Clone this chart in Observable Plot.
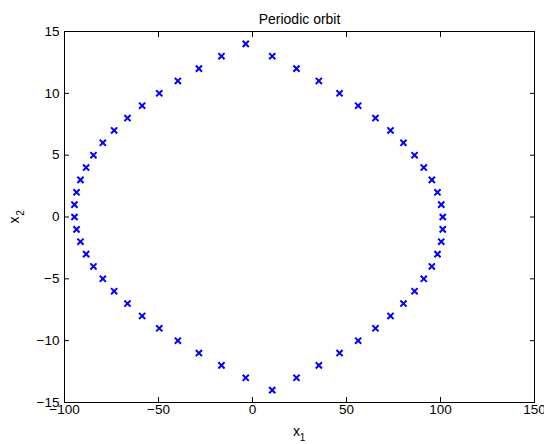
<!DOCTYPE html>
<html><head><meta charset="utf-8">
<script src="https://cdn.jsdelivr.net/npm/d3@7"></script>
<script src="https://cdn.jsdelivr.net/npm/@observablehq/plot@0.6"></script>
<style>body{margin:0;background:#fff;} svg{display:block;}</style>
</head><body><div id="chart"></div>
<script>
// Orbit points (x1, x2)
const x1 = [
  -3.6, -16.5, -28.5, -39.7, -49.6, -58.7, -66.5, -73.6, -79.6, -84.6, -88.5, -91.5, -93.6, -94.7,
  -94.7, -93.6, -91.5, -88.5, -84.6, -79.6, -73.6, -66.5, -58.7, -49.6, -39.7, -28.5, -16.5, -3.6,
  10.5, 23.4, 35.3, 46.3, 56.2, 65.4, 73.4, 80.3, 86.2, 91.1, 95.4, 98.4, 100.4, 101.2,
  101.2, 100.4, 98.4, 95.4, 91.1, 86.2, 80.3, 73.4, 65.4, 56.2, 46.3, 35.3, 23.4, 10.5
];
const x2 = [
  14, 13, 12, 11, 10, 9, 8, 7, 6, 5, 4, 3, 2, 1,
  0, -1, -2, -3, -4, -5, -6, -7, -8, -9, -10, -11, -12, -13,
  -14, -13, -12, -11, -10, -9, -8, -7, -6, -5, -4, -3, -2, -1,
  0, 1, 2, 3, 4, 5, 6, 7, 8, 9, 10, 11, 12, 13
];
const xTicks = [-100, -50, 0, 50, 100, 150];
const yTicks = [-15, -10, -5, 0, 5, 10, 15];
const titleText = "Periodic orbit";
const xLabel = ["x", "1"];
const yLabel = ["x", "2"];

const data = x1.map((v, i) => ({x1: v, x2: x2[i]}));

const plot = Plot.plot({
  width: 544,
  height: 444,
  marginLeft: 64,
  marginRight: 10,
  marginTop: 31,
  marginBottom: 42,
  style: {fontFamily: "'Liberation Sans', Arial, Helvetica, sans-serif", fontSize: "13.5px", background: "white", color: "black"},
  x: {domain: [-100, 150]},
  y: {domain: [-15, 15]},
  marks: [
    Plot.axisX(xTicks, {anchor: "bottom", tickSize: -5, tickPadding: 7, label: null, fontSize: 13.5}),
    Plot.axisX(xTicks, {anchor: "top", tickSize: -5, text: null, label: null}),
    Plot.axisY(yTicks, {anchor: "left", tickSize: -5, tickPadding: 10, label: null, fontSize: 13.5}),
    Plot.axisY(yTicks, {anchor: "right", tickSize: -5, text: null, label: null}),
    Plot.frame({stroke: "black", strokeWidth: 1}),
    Plot.dot(data, {x: "x1", y: "x2", symbol: "times", r: 2.9, stroke: "#0000ff", strokeWidth: 2}),
    Plot.text([titleText], {frameAnchor: "top", lineAnchor: "middle", dy: -12, fontSize: 14, text: d => d}),
    Plot.text([xLabel[0]], {frameAnchor: "bottom", lineAnchor: "middle", dy: 29, dx: -3, fontSize: 14, text: d => d}),
    Plot.text([xLabel[1]], {frameAnchor: "bottom", lineAnchor: "middle", dy: 35, dx: 3, fontSize: 10, text: d => d}),
    Plot.text([yLabel[0]], {frameAnchor: "left", lineAnchor: "middle", textAnchor: "middle", dx: -50, dy: 3, rotate: -90, fontSize: 14, text: d => d}),
    Plot.text([yLabel[1]], {frameAnchor: "left", lineAnchor: "middle", textAnchor: "middle", dx: -44, dy: -4, rotate: -90, fontSize: 10, text: d => d})
  ]
});
document.getElementById("chart").appendChild(plot);
</script>
</body></html>
